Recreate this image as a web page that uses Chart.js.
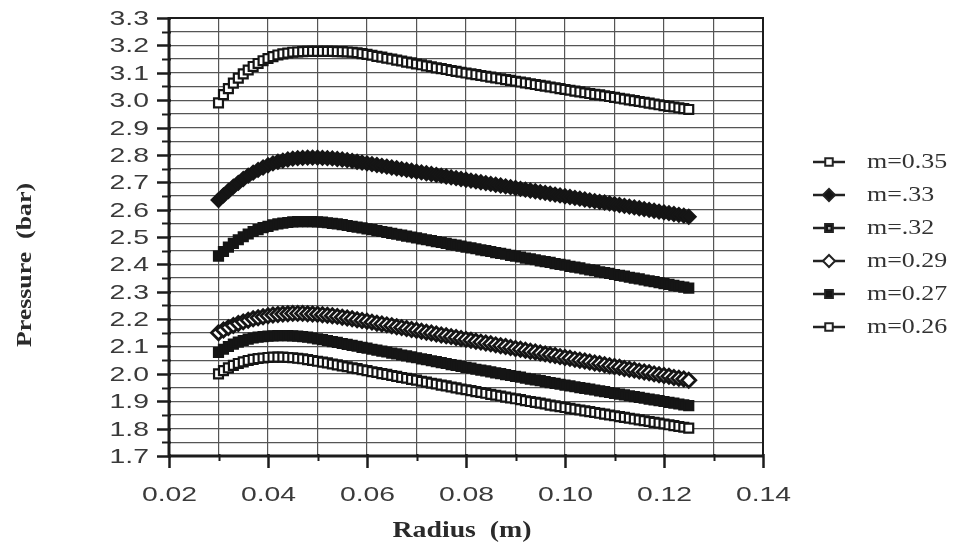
<!DOCTYPE html>
<html>
<head>
<meta charset="utf-8">
<script src="https://cdn.jsdelivr.net/npm/chart.js@4.4.1/dist/chart.umd.min.js"></script>
<style>
  html, body { margin: 0; padding: 0; background: #fff; }
  #chart { display: block; }
</style>
</head>
<body>
<canvas id="chart" width="954" height="551"></canvas>
<script>
// radius (m), one entry per computed point
const radius = [
  0.030, 0.031, 0.032, 0.033, 0.034, 0.035, 0.036, 0.037, 0.038, 0.039,
  0.040, 0.041, 0.042, 0.043, 0.044, 0.045, 0.046, 0.047, 0.048, 0.049,
  0.050, 0.051, 0.052, 0.053, 0.054, 0.055, 0.056, 0.057, 0.058, 0.059,
  0.060, 0.061, 0.062, 0.063, 0.064, 0.065, 0.066, 0.067, 0.068, 0.069,
  0.070, 0.071, 0.072, 0.073, 0.074, 0.075, 0.076, 0.077, 0.078, 0.079,
  0.080, 0.081, 0.082, 0.083, 0.084, 0.085, 0.086, 0.087, 0.088, 0.089,
  0.090, 0.091, 0.092, 0.093, 0.094, 0.095, 0.096, 0.097, 0.098, 0.099,
  0.100, 0.101, 0.102, 0.103, 0.104, 0.105, 0.106, 0.107, 0.108, 0.109,
  0.110, 0.111, 0.112, 0.113, 0.114, 0.115, 0.116, 0.117, 0.118, 0.119,
  0.120, 0.121, 0.122, 0.123, 0.124, 0.125
];

// pressure (bar) for each mass flow
const p035 = [
  2.990, 3.020, 3.042, 3.062, 3.080, 3.096, 3.110, 3.123, 3.134, 3.144,
  3.152, 3.159, 3.165, 3.169, 3.172, 3.175, 3.176, 3.177, 3.178, 3.178,
  3.178, 3.178, 3.178, 3.178, 3.177, 3.177, 3.176, 3.175, 3.173, 3.170,
  3.167, 3.164, 3.160, 3.157, 3.153, 3.150, 3.146, 3.143, 3.139, 3.136,
  3.132, 3.129, 3.125, 3.122, 3.118, 3.115, 3.112, 3.108, 3.105, 3.102,
  3.099, 3.096, 3.093, 3.090, 3.087, 3.084, 3.081, 3.078, 3.075, 3.072,
  3.069, 3.066, 3.063, 3.060, 3.057, 3.054, 3.051, 3.048, 3.045, 3.042,
  3.039, 3.036, 3.033, 3.030, 3.027, 3.024, 3.021, 3.019, 3.016, 3.013,
  3.010, 3.007, 3.004, 3.001, 2.998, 2.995, 2.992, 2.989, 2.986, 2.983,
  2.980, 2.977, 2.975, 2.972, 2.969, 2.966
];
const p033 = [
  2.635, 2.652, 2.668, 2.684, 2.698, 2.712, 2.724, 2.735, 2.745, 2.754,
  2.762, 2.769, 2.775, 2.779, 2.783, 2.786, 2.788, 2.789, 2.790, 2.790,
  2.790, 2.789, 2.788, 2.787, 2.785, 2.783, 2.781, 2.778, 2.775, 2.772,
  2.769, 2.766, 2.763, 2.760, 2.757, 2.754, 2.751, 2.748, 2.745, 2.742,
  2.739, 2.736, 2.733, 2.730, 2.727, 2.724, 2.721, 2.718, 2.715, 2.712,
  2.709, 2.706, 2.703, 2.700, 2.697, 2.694, 2.691, 2.688, 2.685, 2.682,
  2.679, 2.676, 2.673, 2.670, 2.667, 2.664, 2.661, 2.658, 2.655, 2.652,
  2.649, 2.646, 2.643, 2.640, 2.637, 2.634, 2.631, 2.628, 2.626, 2.623,
  2.620, 2.617, 2.614, 2.611, 2.608, 2.605, 2.602, 2.599, 2.596, 2.593,
  2.590, 2.587, 2.584, 2.581, 2.578, 2.574
];
const p032 = [
  2.430, 2.447, 2.463, 2.477, 2.490, 2.501, 2.511, 2.520, 2.527, 2.534,
  2.539, 2.544, 2.548, 2.551, 2.553, 2.555, 2.556, 2.556, 2.556, 2.556,
  2.555, 2.554, 2.552, 2.550, 2.548, 2.545, 2.542, 2.539, 2.536, 2.533,
  2.530, 2.527, 2.523, 2.520, 2.517, 2.513, 2.510, 2.507, 2.503, 2.500,
  2.497, 2.493, 2.490, 2.487, 2.483, 2.480, 2.477, 2.473, 2.470, 2.467,
  2.463, 2.460, 2.457, 2.453, 2.450, 2.447, 2.443, 2.440, 2.437, 2.433,
  2.430, 2.427, 2.423, 2.420, 2.417, 2.413, 2.410, 2.407, 2.403, 2.400,
  2.397, 2.393, 2.390, 2.387, 2.383, 2.380, 2.377, 2.373, 2.370, 2.367,
  2.363, 2.360, 2.357, 2.353, 2.350, 2.347, 2.343, 2.340, 2.337, 2.333,
  2.330, 2.327, 2.323, 2.320, 2.317, 2.313
];
const p029 = [
  2.150, 2.160, 2.169, 2.177, 2.184, 2.190, 2.196, 2.201, 2.205, 2.209,
  2.212, 2.215, 2.217, 2.219, 2.220, 2.221, 2.221, 2.221, 2.220, 2.219,
  2.218, 2.216, 2.214, 2.212, 2.210, 2.207, 2.204, 2.201, 2.198, 2.195,
  2.192, 2.189, 2.185, 2.182, 2.179, 2.176, 2.172, 2.169, 2.166, 2.162,
  2.159, 2.156, 2.152, 2.149, 2.146, 2.142, 2.139, 2.136, 2.133, 2.129,
  2.126, 2.123, 2.119, 2.116, 2.113, 2.110, 2.106, 2.103, 2.100, 2.096,
  2.093, 2.090, 2.086, 2.083, 2.080, 2.076, 2.073, 2.070, 2.067, 2.063,
  2.060, 2.057, 2.053, 2.050, 2.047, 2.043, 2.040, 2.037, 2.033, 2.030,
  2.027, 2.024, 2.020, 2.017, 2.014, 2.010, 2.007, 2.004, 2.000, 1.997,
  1.994, 1.991, 1.987, 1.984, 1.981, 1.977
];
const p027 = [
  2.078, 2.090, 2.100, 2.109, 2.116, 2.122, 2.127, 2.131, 2.134, 2.136,
  2.138, 2.139, 2.140, 2.140, 2.140, 2.139, 2.138, 2.136, 2.134, 2.131,
  2.128, 2.125, 2.122, 2.118, 2.115, 2.111, 2.108, 2.104, 2.101, 2.097,
  2.094, 2.090, 2.087, 2.083, 2.080, 2.076, 2.073, 2.069, 2.066, 2.062,
  2.059, 2.055, 2.052, 2.048, 2.045, 2.041, 2.038, 2.034, 2.031, 2.027,
  2.024, 2.021, 2.017, 2.014, 2.011, 2.007, 2.004, 2.001, 1.997, 1.994,
  1.991, 1.988, 1.984, 1.981, 1.978, 1.975, 1.972, 1.968, 1.965, 1.962,
  1.959, 1.956, 1.953, 1.950, 1.947, 1.944, 1.941, 1.938, 1.935, 1.932,
  1.929, 1.926, 1.923, 1.920, 1.917, 1.914, 1.911, 1.908, 1.905, 1.902,
  1.899, 1.896, 1.893, 1.890, 1.887, 1.884
];
const p026 = [
  2.000, 2.012, 2.022, 2.031, 2.038, 2.044, 2.049, 2.053, 2.056, 2.058,
  2.060, 2.061, 2.061, 2.061, 2.060, 2.059, 2.057, 2.055, 2.052, 2.049,
  2.046, 2.043, 2.040, 2.036, 2.033, 2.029, 2.026, 2.022, 2.019, 2.015,
  2.012, 2.008, 2.005, 2.001, 1.998, 1.994, 1.991, 1.987, 1.984, 1.980,
  1.977, 1.973, 1.970, 1.966, 1.963, 1.959, 1.956, 1.952, 1.949, 1.945,
  1.942, 1.939, 1.935, 1.932, 1.929, 1.925, 1.922, 1.919, 1.915, 1.912,
  1.909, 1.906, 1.902, 1.899, 1.896, 1.893, 1.890, 1.886, 1.883, 1.880,
  1.877, 1.874, 1.871, 1.868, 1.865, 1.862, 1.859, 1.856, 1.853, 1.850,
  1.847, 1.844, 1.841, 1.838, 1.835, 1.832, 1.829, 1.826, 1.823, 1.820,
  1.817, 1.814, 1.811, 1.808, 1.805, 1.802
];

const seriesNames = ['m=0.35', 'm=.33', 'm=.32', 'm=0.29', 'm=0.27', 'm=0.26'];
const seriesValues = [p035, p033, p032, p029, p027, p026];

// marker look for each curve: open square, filled diamond, filled square,
// open diamond, filled square, open square
const markers = [
  { style: 'rect',    fill: '#ffffff', r: 6.3, bw: 2.2 },
  { style: 'rectRot', fill: '#151515', r: 7,   bw: 2 },
  { style: 'rect',    fill: '#151515', r: 6.5, bw: 2, dot: true },
  { style: 'rectRot', fill: '#ffffff', r: 7,   bw: 2.8 },
  { style: 'rect',    fill: '#151515', r: 6.5, bw: 2 },
  { style: 'rect',    fill: '#ffffff', r: 6.3, bw: 2.2 }
];

function toPoints(values) {
  return radius.map((r, i) => ({ x: r, y: values[i] }));
}

// draw a string stretched horizontally by sx
function wideText(ctx, text, x, y, font, sx, align, color) {
  ctx.save();
  ctx.font = font;
  ctx.fillStyle = color;
  ctx.textBaseline = 'middle';
  ctx.textAlign = 'left';
  const w = ctx.measureText(text).width * sx;
  const left = align === 'center' ? x - w / 2 : (align === 'right' ? x - w : x);
  ctx.translate(left, y);
  ctx.scale(sx, 1);
  ctx.fillText(text, 0, 0);
  ctx.restore();
}

function fitText(ctx, text, x, y, font, width, color) {
  ctx.save();
  ctx.font = font;
  const sx = width / ctx.measureText(text).width;
  ctx.restore();
  wideText(ctx, text, x, y, font, sx, 'center', color);
}

// frame, tick marks, labels, titles and legend
const decorations = {
  id: 'decorations',
  afterDraw(chart) {
    const ctx = chart.ctx;
    const a = chart.chartArea;
    const xs = chart.scales.x;
    const ys = chart.scales.y;
    ctx.save();
    ctx.strokeStyle = '#1c1c1c';
    ctx.lineCap = 'butt';

    // plot frame
    ctx.lineWidth = 2;
    ctx.beginPath();
    ctx.moveTo(a.left, a.top); ctx.lineTo(a.right, a.top); ctx.lineTo(a.right, a.bottom);
    ctx.stroke();
    ctx.lineWidth = 3;
    ctx.beginPath();
    ctx.moveTo(a.left, a.top - 1); ctx.lineTo(a.left, a.bottom); ctx.lineTo(a.right + 1, a.bottom);
    ctx.stroke();

    const tickFont = '21px "Liberation Sans"';
    const tickColor = '#3a3a3a';

    // y ticks: long at every 0.1, short between
    ys.ticks.forEach((t, i) => {
      const py = Math.round(ys.getPixelForValue(t.value)) + 0.5;
      const major = i % 2 === 0;
      ctx.lineWidth = major ? 2.5 : 2;
      ctx.beginPath();
      ctx.moveTo(a.left - (major ? 12 : 7), py);
      ctx.lineTo(a.left + 2, py);
      ctx.stroke();
      if (major) {
        wideText(ctx, t.value.toFixed(1), 149, py + 1, tickFont, 1.35, 'right', tickColor);
      }
    });

    // x ticks: long at every 0.02, short between
    xs.ticks.forEach((t, i) => {
      const px = Math.round(xs.getPixelForValue(t.value)) + 0.5;
      const major = i % 2 === 0;
      ctx.lineWidth = major ? 2.5 : 2;
      ctx.beginPath();
      ctx.moveTo(px, a.bottom - 2);
      ctx.lineTo(px, a.bottom + (major ? 12 : 5));
      ctx.stroke();
      if (major) {
        wideText(ctx, t.value.toFixed(2), px, 495, tickFont, 1.35, 'center', tickColor);
      }
    });

    // axis titles
    fitText(ctx, 'Radius  (m)', 462, 531, 'bold 24px "Liberation Serif"', 139, '#2a2a2a');
    ctx.save();
    ctx.translate(26, 265);
    ctx.rotate(-Math.PI / 2);
    fitText(ctx, 'Pressure  (bar)', 0, 0, 'bold 20px "Liberation Serif"', 164, '#2a2a2a');
    ctx.restore();

    // legend
    seriesNames.forEach((name, i) => {
      const ly = 162 + i * 33;
      const mk = markers[i];
      ctx.strokeStyle = '#222';
      ctx.lineWidth = 2.5;
      ctx.beginPath();
      ctx.moveTo(813, ly); ctx.lineTo(845, ly);
      ctx.stroke();
      ctx.fillStyle = mk.fill;
      ctx.lineWidth = 2;
      Chart.helpers.drawPoint(ctx, { pointStyle: mk.style, radius: mk.r - 1, rotation: 0, borderWidth: 2 }, 829, ly);
      if (mk.dot) {
        ctx.fillStyle = '#aaaaaa';
        ctx.fillRect(828, ly - 1, 2.5, 2.5);
      }
      wideText(ctx, name, 867, ly, '22px "Liberation Serif"', 1.18, 'left', '#333');
    });

    ctx.restore();
  }
};

const datasets = seriesNames.map((name, i) => ({
  label: name,
  data: toPoints(seriesValues[i]),
  showLine: true,
  borderColor: '#1a1a1a',
  borderWidth: 1.5,
  pointStyle: markers[i].style,
  pointRadius: markers[i].r,
  pointBackgroundColor: markers[i].fill,
  pointBorderColor: '#151515',
  pointBorderWidth: markers[i].bw,
  tension: 0
}));

const gridStyle = {
  color: '#555555',
  lineWidth: 1.2,
  borderDash: [2, 2],
  drawTicks: false
};

new Chart(document.getElementById('chart').getContext('2d'), {
  type: 'line',
  data: { datasets: datasets },
  options: {
    responsive: false,
    animation: false,
    layout: { padding: { left: 0, right: 191, top: 18, bottom: 0 } },
    plugins: {
      legend: { display: false },
      tooltip: { enabled: false }
    },
    scales: {
      x: {
        type: 'linear',
        min: 0.02,
        max: 0.14,
        ticks: { stepSize: 0.01, display: false },
        grid: gridStyle,
        border: { display: false },
        afterFit(scale) { scale.height = 95; }
      },
      y: {
        type: 'linear',
        min: 1.7,
        max: 3.3,
        ticks: { stepSize: 0.05, display: false },
        grid: gridStyle,
        border: { display: false },
        afterFit(scale) { scale.width = 169; }
      }
    }
  },
  plugins: [decorations]
});
</script>
</body>
</html>
